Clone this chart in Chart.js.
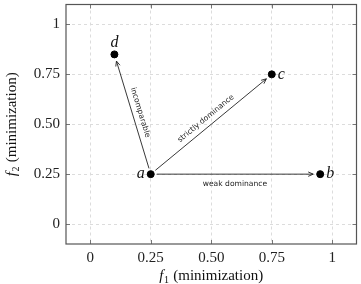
<!DOCTYPE html>
<html><head><meta charset="utf-8">
<script src="https://cdn.jsdelivr.net/npm/chart.js@4/dist/chart.umd.min.js"></script>
<style>html,body{margin:0;padding:0;background:#fff}#wrap{width:361px;height:284px}</style>
</head><body><div id="wrap"><canvas id="c" width="361" height="284"></canvas></div>
<script>
const pointNames = ['a', 'b', 'c', 'd'];
const f1Values = [0.25, 0.95, 0.75, 0.1];
const f2Values = [0.25, 0.25, 0.75, 0.85];
const tickValues = [0, 0.25, 0.5, 0.75, 1];
const tickLabels = ['0', '0.25', '0.50', '0.75', '1'];
const arrowFrom = ['a', 'a', 'a'];
const arrowTo = ['d', 'c', 'b'];
const arrowLabels = ['incomparable', 'strictly dominance', 'weak dominance'];

const labelSide = {a: 'left', b: 'right', c: 'right', d: 'above'};
const SERIF = '"Liberation Serif", "DejaVu Serif", serif';
const SANS = '"DejaVu Sans", "Noto Sans", sans-serif';

function setTicks(scale) {
  scale.ticks = tickValues.map(v => ({value: v}));
}
function tickCb(value) {
  const i = tickValues.findIndex(t => Math.abs(t - value) < 1e-9);
  return i >= 0 ? tickLabels[i] : '';
}

const overlay = {
  id: 'overlay',
  beforeDatasetsDraw(chart) {
    const ctx = chart.ctx, a = chart.chartArea;
    const xs = chart.scales.x, ys = chart.scales.y;
    ctx.save();
    // inside tick marks
    ctx.strokeStyle = '#777'; ctx.lineWidth = 1;
    tickValues.forEach(v => {
      const px = Math.round(xs.getPixelForValue(v)) + 0.5;
      const py = Math.round(ys.getPixelForValue(v)) + 0.5;
      ctx.beginPath();
      ctx.moveTo(px, a.bottom); ctx.lineTo(px, a.bottom - 4);
      ctx.moveTo(px, a.top); ctx.lineTo(px, a.top + 4);
      ctx.moveTo(a.left, py); ctx.lineTo(a.left + 4, py);
      ctx.moveTo(a.right, py); ctx.lineTo(a.right - 4, py);
      ctx.stroke();
    });
    // arrows
    const pos = name => {
      const i = pointNames.indexOf(name);
      return {x: xs.getPixelForValue(f1Values[i]), y: ys.getPixelForValue(f2Values[i])};
    };
    ctx.strokeStyle = '#222'; ctx.fillStyle = '#222'; ctx.lineWidth = 0.9;
    arrowFrom.forEach((fromName, k) => {
      const p0 = pos(fromName), p1 = pos(arrowTo[k]);
      const dx = p1.x - p0.x, dy = p1.y - p0.y, len = Math.hypot(dx, dy);
      const ux = dx / len, uy = dy / len;
      const sx = p0.x + ux * 6, sy = p0.y + uy * 6;
      const ex = p1.x - ux * 7, ey = p1.y - uy * 7;
      ctx.beginPath(); ctx.moveTo(sx, sy); ctx.lineTo(ex, ey); ctx.stroke();
      // arrowhead
      const hl = 5, hw = 2.2;
      ctx.beginPath();
      ctx.moveTo(ex - ux * hl + uy * hw, ey - uy * hl - ux * hw);
      ctx.lineTo(ex, ey);
      ctx.lineTo(ex - ux * hl - uy * hw, ey - uy * hl + ux * hw);
      ctx.stroke();
      // label
      const mx = (sx + ex) / 2, my = (sy + ey) / 2;
      let ang = Math.atan2(dy, dx);
      let below = false;
      if (ang > Math.PI / 2 || ang < -Math.PI / 2) { ang += Math.PI; }
      if (Math.abs(dy) < 1e-6) below = true;
      ctx.save();
      ctx.translate(mx, my); ctx.rotate(ang);
      ctx.font = '7.6px ' + SANS; ctx.fillStyle = '#222';
      ctx.textAlign = 'center';
      if (below) { ctx.textBaseline = 'top'; ctx.fillText(arrowLabels[k], 0, 6); }
      else { ctx.textBaseline = 'bottom'; ctx.fillText(arrowLabels[k], 0, -4); }
      ctx.restore();
    });
    ctx.restore();
  },
  afterDraw(chart) {
    const ctx = chart.ctx, a = chart.chartArea;
    const xs = chart.scales.x, ys = chart.scales.y;
    ctx.save();
    // frame
    ctx.strokeStyle = '#555'; ctx.lineWidth = 1.2;
    ctx.strokeRect(a.left, a.top, a.right - a.left, a.bottom - a.top);
    // point labels
    ctx.fillStyle = '#111';
    ctx.font = 'italic 16px ' + SERIF;
    pointNames.forEach((n, i) => {
      const px = xs.getPixelForValue(f1Values[i]), py = ys.getPixelForValue(f2Values[i]);
      ctx.textBaseline = 'middle';
      if (labelSide[n] === 'left') { ctx.textAlign = 'right'; ctx.fillText(n, px - 6, py); }
      else if (labelSide[n] === 'right') { ctx.textAlign = 'left'; ctx.fillText(n, px + 6, py); }
      else { ctx.textAlign = 'center'; ctx.textBaseline = 'bottom'; ctx.fillText(n, px, py - 4); }
    });
    // axis titles
    const drawTitle = (sub) => {
      const f = 'italic 15px ' + SERIF, s = '10px ' + SERIF, r = '15px ' + SERIF;
      const rest = ' (minimization)';
      ctx.font = f; const w1 = ctx.measureText('f').width;
      ctx.font = s; const w2 = ctx.measureText(sub).width;
      ctx.font = r; const w3 = ctx.measureText(rest).width;
      let x = -(w1 + w2 + 1 + w3) / 2;
      ctx.textAlign = 'left'; ctx.textBaseline = 'alphabetic';
      ctx.font = f; ctx.fillText('f', x, 0); x += w1 + 0.5;
      ctx.font = s; ctx.fillText(sub, x, 3); x += w2 + 0.5;
      ctx.font = r; ctx.fillText(rest, x, 0);
    };
    ctx.save();
    ctx.translate((a.left + a.right) / 2, 280);
    drawTitle('1');
    ctx.restore();
    ctx.save();
    ctx.translate(16, (a.top + a.bottom) / 2);
    ctx.rotate(-Math.PI / 2);
    drawTitle('2');
    ctx.restore();
    ctx.restore();
  }
};

new Chart(document.getElementById('c'), {
  type: 'scatter',
  data: {
    datasets: [{
      data: f1Values.map((x, i) => ({x: x, y: f2Values[i]})),
      backgroundColor: '#000', borderColor: '#000',
      pointRadius: 3.5, pointHoverRadius: 3.5
    }]
  },
  options: {
    responsive: false, animation: false,
    layout: {padding: {top: 3, right: 4, left: 0, bottom: 0}},
    plugins: {legend: {display: false}, tooltip: {enabled: false}},
    scales: {
      x: {
        type: 'linear', min: -0.1, max: 1.1,
        afterBuildTicks: setTicks,
        afterFit: s => { s.height = 40; s.paddingLeft = 0; s.paddingRight = 0; },
        grid: {color: '#dcdcdc', drawTicks: false, lineWidth: 1},
        border: {display: false, dash: [3, 3]},
        ticks: {callback: tickCb, padding: 5, color: '#222', font: {family: SERIF, size: 15}, maxRotation: 0}
      },
      y: {
        type: 'linear', min: -0.1, max: 1.1,
        afterBuildTicks: setTicks,
        afterFit: s => { s.width = 66; s.paddingTop = 0; s.paddingBottom = 0; },
        grid: {color: '#dcdcdc', drawTicks: false, lineWidth: 1},
        border: {display: false, dash: [3, 3]},
        ticks: {callback: tickCb, padding: 6, color: '#222', font: {family: SERIF, size: 15}}
      }
    }
  },
  plugins: [overlay]
});
</script></body></html>
